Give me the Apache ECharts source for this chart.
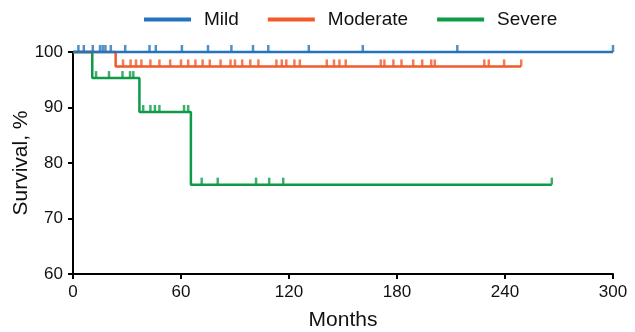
<!DOCTYPE html>
<html>
<head>
<meta charset="utf-8">
<script src="https://cdn.jsdelivr.net/npm/echarts@6/dist/echarts.min.js"></script>
<style>html,body{margin:0;padding:0;background:#fff}#c{width:635px;height:332px}</style>
</head>
<body>
<div id="c"></div>
<script>
const groups = ['Mild', 'Moderate', 'Severe'];
const colors = ['#2473bd', '#f15a2a', '#0f9a48'];
const xTicks = [0, 60, 120, 180, 240, 300];
const yTicks = [60, 70, 80, 90, 100];

const mildTimes = [0, 300];
const mildSurv = [100, 100];
const moderateTimes = [0, 23.7, 249];
const moderateSurv = [100, 97.4, 97.4];
const severeTimes = [0, 10.7, 36.9, 65.5, 266];
const severeSurv = [100, 95.3, 89.2, 76.1, 76.1];

const mildCensor = [3, 6, 11, 15, 16.5, 18, 21, 29, 42.5, 46, 60.5, 75, 88, 100, 108.5, 131, 161, 213.5, 300];
const moderateCensor = [27.8, 32, 35, 38, 43, 48, 54, 60, 64, 68, 72, 76, 82, 87.5, 90, 94, 98.5, 103, 113, 116, 118.5, 123, 126, 141, 145, 148, 151.5, 171, 173, 178, 182.5, 189, 194, 199, 201, 228.5, 231, 239.5, 249];
const severeCensor = [12.8, 20, 27.5, 31.7, 33.5, 39, 43, 45.5, 48, 61.7, 64, 71.5, 80.4, 101.7, 109, 116.8, 266];

const curves = [
  [mildTimes, mildSurv, mildCensor],
  [moderateTimes, moderateSurv, moderateCensor],
  [severeTimes, severeSurv, severeCensor]
];

function survAt(times, surv, t) {
  let s = surv[0];
  for (let i = 0; i < times.length; i++) { if (times[i] <= t) s = surv[i]; }
  return s;
}

const FONT = 'Liberation Sans, Arial, Helvetica, sans-serif';
const series = [];
[2, 1, 0].forEach(i => {
  const [times, surv, cens] = curves[i];
  series.push({
    name: groups[i], type: 'line', step: 'end', clip: false,
    data: times.map((t, k) => [t, surv[k]]),
    symbol: 'none', lineStyle: { color: colors[i], width: 2.5 }, itemStyle: { color: colors[i] },
    z: 2 + (2 - i)
  });
  series.push({
    name: groups[i] + ' censored', type: 'scatter', clip: false,
    data: cens.map(t => [t, survAt(times, surv, t)]),
    symbol: 'rect', symbolSize: [2.5, 7], symbolOffset: [0, -3.5],
    itemStyle: { color: colors[i] }, z: 2 + (2 - i), silent: true
  });
});

const chart = echarts.init(document.getElementById('c'), null, { renderer: 'canvas' });
chart.setOption({
  animation: false,
  textStyle: { fontFamily: FONT },
  legend: {
    data: groups, top: 5, left: 139,
    itemWidth: 47, itemHeight: 4, itemGap: 29,
    textStyle: { fontSize: 19, color: '#111', fontFamily: FONT, padding: [0, 0, 0, 8] },
    icon: 'rect'
  },
  grid: { left: 73, right: 22, top: 52, bottom: 58, outerBoundsMode: 'none', containLabel: false },
  xAxis: {
    type: 'value', min: 0, max: 300, interval: 60,
    name: 'Months', nameLocation: 'middle', nameGap: 36, nameMoveOverlap: false,
    nameTextStyle: { fontSize: 21, color: '#111', fontFamily: FONT },
    axisLine: { show: true, lineStyle: { color: '#000', width: 2 } },
    axisTick: { show: true, length: 5, lineStyle: { color: '#000', width: 2 } },
    axisLabel: { fontSize: 17, color: '#111', margin: 10, fontFamily: FONT,
      formatter: v => xTicks.includes(v) ? String(v) : '' },
    splitLine: { show: false }
  },
  yAxis: {
    type: 'value', min: 60, max: 100, interval: 10,
    name: 'Survival, %', nameLocation: 'middle', nameGap: 41, nameMoveOverlap: false,
    nameTextStyle: { fontSize: 21, color: '#111', fontFamily: FONT },
    axisLine: { show: true, lineStyle: { color: '#000', width: 2 } },
    axisTick: { show: true, length: 5, lineStyle: { color: '#000', width: 2 } },
    axisLabel: { fontSize: 17, color: '#111', margin: 10, fontFamily: FONT,
      formatter: v => yTicks.includes(v) ? String(v) : '' },
    splitLine: { show: false }
  },
  series: series
});
</script>
</body>
</html>
